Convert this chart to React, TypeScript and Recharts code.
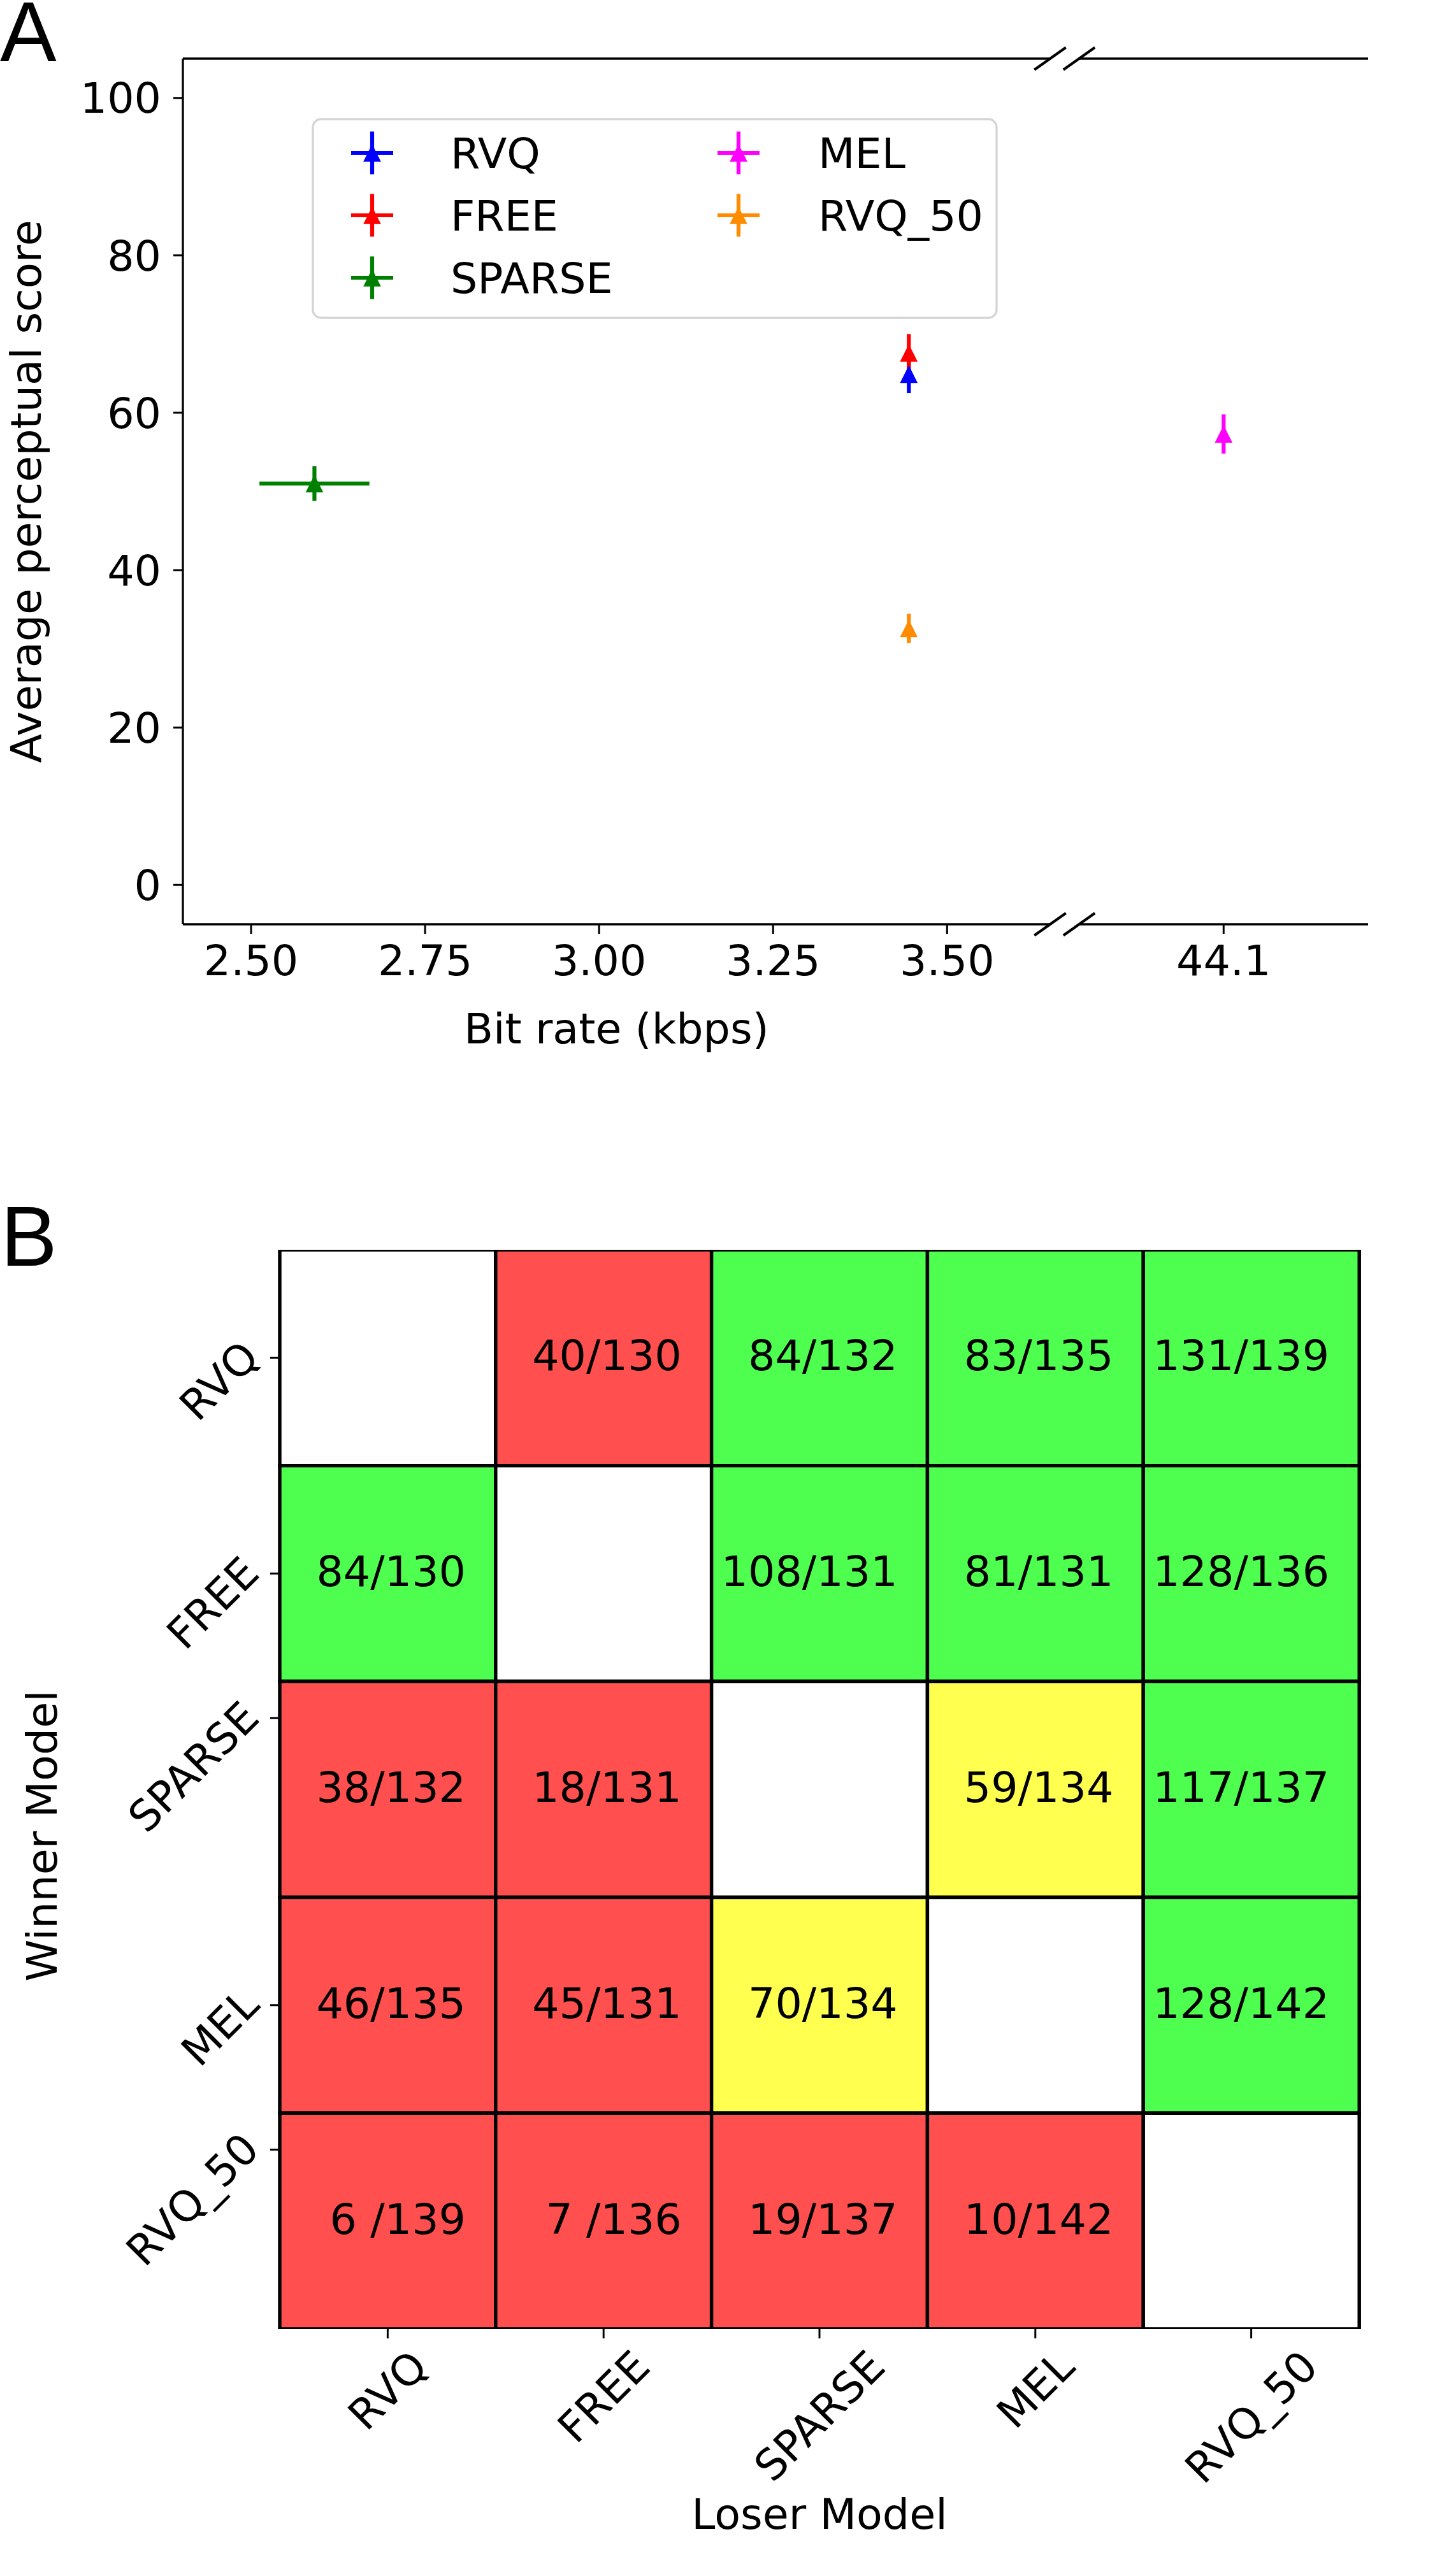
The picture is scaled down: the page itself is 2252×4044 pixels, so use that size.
import React from 'react';
import {
  ScatterChart, Scatter, XAxis, YAxis, ErrorBar, ReferenceDot, ReferenceLine,
  BarChart, Bar, Cell, LabelList,
} from 'recharts';

const FONT = 'DejaVu Sans';
const FS = 66.7;

// ---------------- Panel A data ----------------
const seriesNames = ['RVQ', 'FREE', 'SPARSE', 'MEL', 'RVQ_50'];
const seriesColors = ['#0000ff', '#ff0000', '#008000', '#ff00ff', '#ff8c00'];
const bitRates = [3.445, 3.445, 2.591, 44.1, 3.445];
const bitRateErrors = [0, 0, 0.079, 0, 0];
const scores = [64.9, 67.6, 51.0, 57.3, 32.6];
const scoreErrors = [2.4, 2.4, 2.2, 2.5, 1.85];
const lowXTicks = [2.5, 2.75, 3.0, 3.25, 3.5];
const highXTicks = [44.1];
const scoreTicks = [0, 20, 40, 60, 80, 100];
const lowXDomain: [number, number] = [2.402, 3.648];
const highXDomain: [number, number] = [43.892, 44.308];
const scoreDomain: [number, number] = [-5, 105];

// ---------------- Panel B data ----------------
const models = ['RVQ', 'FREE', 'SPARSE', 'MEL', 'RVQ_50'];
// rows = winner, columns = loser
const winCounts = [
  [null, 40, 84, 83, 131],
  [84, null, 108, 81, 128],
  [38, 18, null, 59, 117],
  [46, 45, 70, null, 128],
  [6, 7, 19, 10, null],
];
const totalCounts = [
  [null, 130, 132, 135, 139],
  [130, null, 131, 131, 136],
  [132, 131, null, 134, 137],
  [135, 131, 134, null, 142],
  [139, 136, 137, 142, null],
];
const cellClasses = [
  ['w', 'r', 'g', 'g', 'g'],
  ['g', 'w', 'g', 'g', 'g'],
  ['r', 'r', 'w', 'y', 'g'],
  ['r', 'r', 'y', 'w', 'g'],
  ['r', 'r', 'r', 'r', 'w'],
];
const winnerTickPositions = [0.5, 1.5, 2.17, 3.5, 4.17];

const classColors: Record<string, string> = {
  w: '#ffffff', r: '#ff4f4f', g: '#4fff4f', y: '#ffff4f',
};

let measureCtx: CanvasRenderingContext2D | null = null;
function textWidth(t: string, size = FS, family = FONT): number {
  try {
    if (!measureCtx) measureCtx = document.createElement('canvas').getContext('2d');
    if (measureCtx) {
      measureCtx.font = `${size}px "${family}"`;
      return measureCtx.measureText(t).width;
    }
  } catch (e) { /* ignore */ }
  return t.length * size * 0.62;
}

function cellText(i: number, j: number): string {
  const w = winCounts[i][j];
  const n = totalCounts[i][j];
  if (w === null || n === null) return '';
  return w < 10 ? `${w} /${n}` : `${w}/${n}`;
}

const pointData = seriesNames.map((name, i) => [{
  name, x: bitRates[i], y: scores[i], ex: bitRateErrors[i], ey: scoreErrors[i],
}]);

const TRI = 13.8;
const triangleShape = (color: string) => (props: any) => {
  const { cx, cy } = props;
  if (cx == null || cy == null) return <g />;
  return (
    <polygon
      points={`${cx},${cy - TRI} ${cx - TRI},${cy + TRI} ${cx + TRI},${cy + TRI}`}
      fill={color}
      stroke="none"
    />
  );
};

const emptyShape = () => <g />;

const breakMark = (props: any) => {
  const { cx, cy } = props;
  return (
    <line x1={cx - 24.7} y1={cy + 17.5} x2={cx + 24.7} y2={cy - 17.5}
      stroke="#000" strokeWidth={4} />
  );
};

const axisLineStyle = { stroke: '#000', strokeWidth: 3.3 };
const tickLineStyle = { stroke: '#000', strokeWidth: 3 };
const tickTextStyle = { fill: '#000', fontSize: FS, fontFamily: FONT };

function renderSeries(isHigh: boolean) {
  const idx = seriesNames.map((_, i) => i).filter((i) => (bitRates[i] > 10) === isHigh);
  const errs = idx.map((i) => (
    <Scatter key={`e${i}`} data={pointData[i]} dataKey="y" xAxisId="b" yAxisId="l"
      isAnimationActive={false} shape={emptyShape}>
      <ErrorBar dataKey="ey" direction="y" width={0} stroke={seriesColors[i]}
        strokeWidth={6.2} isAnimationActive={false} />
      {bitRateErrors[i] > 0 && (
        <ErrorBar dataKey="ex" direction="x" width={0} stroke={seriesColors[i]}
          strokeWidth={6.2} isAnimationActive={false} />
      )}
    </Scatter>
  ));
  const marks = idx.map((i) => (
    <Scatter key={`m${i}`} data={pointData[i]} dataKey="y" xAxisId="b" yAxisId="l"
      isAnimationActive={false} shape={triangleShape(seriesColors[i])} />
  ));
  return [...errs, ...marks];
}

function PanelALow() {
  return (
    <ScatterChart width={2252} height={1700} margin={{ top: 92, right: 604, bottom: 0, left: 0 }}>
      <XAxis xAxisId="b" type="number" dataKey="x" domain={lowXDomain} ticks={lowXTicks}
        allowDataOverflow tickFormatter={(v: number) => v.toFixed(2)} height={249}
        tickSize={15} tickMargin={18} axisLine={axisLineStyle} tickLine={tickLineStyle}
        tick={tickTextStyle} interval={0} />
      <YAxis yAxisId="l" type="number" dataKey="y" domain={scoreDomain} ticks={scoreTicks}
        allowDataOverflow width={287} tickSize={15} tickMargin={19} axisLine={axisLineStyle}
        tickLine={tickLineStyle} tick={tickTextStyle} interval={0} />
      <ReferenceLine xAxisId="b" yAxisId="l" y={scoreDomain[1]} stroke="#000" strokeWidth={3.3}
        ifOverflow="visible" />
      {renderSeries(false)}
      <ReferenceDot xAxisId="b" yAxisId="l" x={lowXDomain[1]} y={scoreDomain[1]} r={0}
        ifOverflow="visible" shape={breakMark} />
      <ReferenceDot xAxisId="b" yAxisId="l" x={lowXDomain[1]} y={scoreDomain[0]} r={0}
        ifOverflow="visible" shape={breakMark} />
    </ScatterChart>
  );
}

function PanelAHigh() {
  return (
    <ScatterChart width={2252} height={1700} margin={{ top: 92, right: 105, bottom: 0, left: 1693.5 }}>
      <XAxis xAxisId="b" type="number" dataKey="x" domain={highXDomain} ticks={highXTicks}
        allowDataOverflow tickFormatter={(v: number) => v.toFixed(1)} height={249}
        tickSize={15} tickMargin={18} axisLine={axisLineStyle} tickLine={tickLineStyle}
        tick={tickTextStyle} interval={0} />
      <YAxis yAxisId="l" orientation="right" type="number" dataKey="y" domain={scoreDomain}
        ticks={scoreTicks} allowDataOverflow width={0} tickSize={15} axisLine={axisLineStyle}
        tickLine={tickLineStyle} tick={false} interval={0} />
      <ReferenceLine xAxisId="b" yAxisId="l" y={scoreDomain[1]} stroke="#000" strokeWidth={3.3}
        ifOverflow="visible" />
      {renderSeries(true)}
      <ReferenceDot xAxisId="b" yAxisId="l" x={highXDomain[0]} y={scoreDomain[1]} r={0}
        ifOverflow="visible" shape={breakMark} />
      <ReferenceDot xAxisId="b" yAxisId="l" x={highXDomain[0]} y={scoreDomain[0]} r={0}
        ifOverflow="visible" shape={breakMark} />
    </ScatterChart>
  );
}

// ---------------- Panel B ----------------
const matrixData = models.map((loser, j) => {
  const row: Record<string, any> = { loser };
  models.forEach((_, i) => {
    row[`v${i}`] = 1;
    row[`t${i}`] = cellText(i, j);
  });
  return row;
});

const renderCellLabel = (props: any) => {
  const { x, y, width, height, value } = props;
  if (!value) return null;
  return (
    <text x={Number(x) + Number(width) - 47} y={Number(y) + Number(height) / 2 + 20}
      textAnchor="end" fontSize={FS} fontFamily={FONT} fill="#000">{value}</text>
  );
};

const LoserTick = (props: any) => {
  const { x, y, payload } = props;
  const label = String(payload.value);
  const L = textWidth(label);
  const cy = y + (L + 67) * 0.3536;
  return (
    <text x={x} y={cy} dy="0.35em" textAnchor="middle" fontSize={FS} fontFamily={FONT}
      fill="#000" transform={`rotate(-45, ${x}, ${cy})`}>{label}</text>
  );
};

const WinnerTick = (props: any) => {
  const { y, payload } = props;
  const k = winnerTickPositions.indexOf(payload.value);
  const label = k >= 0 ? models[k] : '';
  const ex = 410;
  const ey = y + 3;
  return (
    <text x={ex} y={ey} textAnchor="end" fontSize={FS} fontFamily={FONT} fill="#000"
      transform={`rotate(-45, ${ex}, ${ey})`}>{label}</text>
  );
};

function PanelB() {
  return (
    <BarChart width={2252} height={4044} data={matrixData}
      margin={{ top: 1962, right: 119, bottom: 0, left: 0 }}
      barCategoryGap={0} barGap={0}>
      <XAxis dataKey="loser" type="category" height={388} tickSize={15} tickMargin={8}
        axisLine={false} tickLine={tickLineStyle} tick={<LoserTick />} interval={0} />
      <YAxis type="number" domain={[0, 5]} reversed allowDataOverflow ticks={winnerTickPositions}
        width={439} tickSize={15} tickMargin={20} axisLine={false} tickLine={tickLineStyle}
        tick={<WinnerTick />} interval={0} />
      {models.map((_, i) => (
        <Bar key={i} dataKey={`v${i}`} stackId="m" isAnimationActive={false}
          stroke="#000" strokeWidth={5.5}>
          {models.map((__, j) => (
            <Cell key={j} fill={classColors[cellClasses[i][j]]} />
          ))}
          <LabelList dataKey={`t${i}`} content={renderCellLabel} />
        </Bar>
      ))}
    </BarChart>
  );
}

// ---------------- Overlay (titles, legend) ----------------
const legendCols = [584, 1159];
const legendTextCols = [707, 1284];
const legendRows = [240, 338, 436];

function Overlay() {
  return (
    <svg width={2252} height={4044} style={{ position: 'absolute', left: 0, top: 0, pointerEvents: 'none' }}>
      <text x={0} y={96} fontSize={133} fontFamily="Liberation Sans" fill="#000">A</text>
      <text x={1} y={1987} fontSize={133} fontFamily="Liberation Sans" fill="#000">B</text>
      <text x={64} y={771.5} fontSize={FS} fontFamily={FONT} textAnchor="middle" fill="#000"
        transform="rotate(-90, 64, 771.5)">Average perceptual score</text>
      <text x={967.5} y={1638} fontSize={FS} fontFamily={FONT} textAnchor="middle" fill="#000">Bit rate (kbps)</text>
      <text x={89} y={2882} fontSize={FS} fontFamily={FONT} textAnchor="middle" fill="#000"
        transform="rotate(-90, 89, 2882)">Winner Model</text>
      <text x={1286} y={3970} fontSize={FS} fontFamily={FONT} textAnchor="middle" fill="#000">Loser Model</text>
      {/* legend */}
      <rect x={491} y={187} width={1073} height={312} rx={13} ry={13}
        fill="#ffffff" fillOpacity={0.8} stroke="#d4d4d4" strokeWidth={3.3} />
      {seriesNames.map((name, i) => {
        const col = i < 3 ? 0 : 1;
        const row = i < 3 ? i : i - 3;
        const cx = legendCols[col];
        const cy = legendRows[row];
        const c = seriesColors[i];
        return (
          <g key={name}>
            <line x1={cx - 33} y1={cy} x2={cx + 33} y2={cy} stroke={c} strokeWidth={6.2} />
            <line x1={cx} y1={cy - 33.5} x2={cx} y2={cy + 33.5} stroke={c} strokeWidth={6.2} />
            <polygon points={`${cx},${cy - TRI} ${cx - TRI},${cy + TRI} ${cx + TRI},${cy + TRI}`} fill={c} />
            <text x={legendTextCols[col]} y={cy + 24} fontSize={FS} fontFamily={FONT} fill="#000">{name}</text>
          </g>
        );
      })}
    </svg>
  );
}

export default function App() {
  return (
    <div style={{ position: 'absolute', left: 0, top: 0, width: 2252, height: 4044, background: '#fff', overflow: 'hidden' }}>
      <div style={{ position: 'absolute', left: 0, top: 0 }}><PanelALow /></div>
      <div style={{ position: 'absolute', left: 0, top: 0 }}><PanelAHigh /></div>
      <div style={{ position: 'absolute', left: 0, top: 0 }}><PanelB /></div>
      <Overlay />
    </div>
  );
}
